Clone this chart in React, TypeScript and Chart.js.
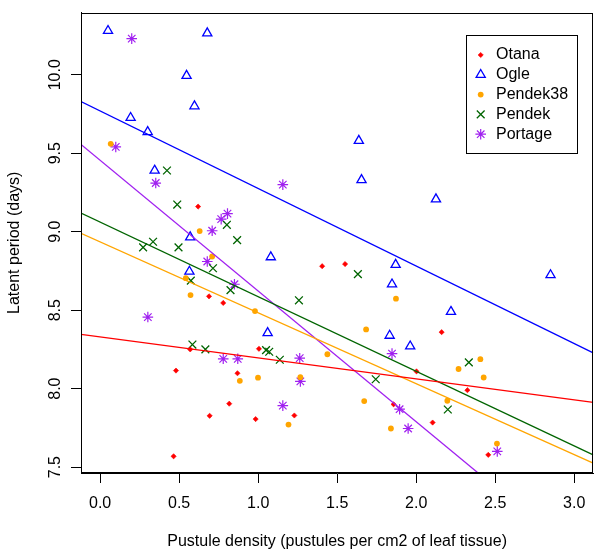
import React, { useEffect, useRef } from "react";
import { Chart, registerables } from "chart.js";
import { drawPoint } from "chart.js/helpers";

Chart.register(...registerables);

const FONT = '"Liberation Sans", Arial, Helvetica, sans-serif';

// ---- data ----
const otanaX = [0.62, 0.689, 0.779, 0.57, 0.48, 0.869, 0.817, 0.693, 0.984, 0.465, 1.005, 2.002, 1.857, 1.229, 1.405, 1.55, 2.161, 2.324, 2.104, 2.456];
const otanaY = [9.16, 8.588, 8.546, 8.25, 8.115, 8.098, 7.904, 7.827, 7.806, 7.569, 8.254, 8.11, 7.9, 7.829, 8.78, 8.794, 8.36, 7.99, 7.784, 7.578];

const ogleX = [0.05, 0.678, 0.547, 0.597, 0.193, 0.301, 0.345, 1.637, 1.654, 0.57, 0.565, 1.08, 1.87, 1.847, 1.06, 1.832, 1.962, 2.125, 2.85, 2.22];
const ogleY = [10.28, 10.265, 9.994, 9.8, 9.726, 9.636, 9.39, 9.58, 9.33, 8.965, 8.746, 8.838, 8.79, 8.665, 8.355, 8.338, 8.27, 9.207, 8.724, 8.49];

const pendek38X = [0.067, 0.63, 0.709, 0.542, 0.572, 0.98, 0.884, 0.999, 1.438, 1.267, 1.671, 1.192, 1.84, 1.872, 1.683, 2.406, 2.268, 2.427, 2.197, 2.511];
const pendek38Y = [9.56, 9.004, 8.842, 8.704, 8.596, 8.494, 8.05, 8.07, 8.219, 8.073, 7.921, 7.771, 7.746, 8.573, 8.377, 8.188, 8.125, 8.071, 7.923, 7.65];

const pendekX = [0.423, 0.488, 0.802, 0.867, 0.335, 0.272, 0.496, 0.714, 0.574, 0.825, 0.584, 0.666, 1.05, 1.07, 1.137, 1.744, 1.631, 1.258, 2.333, 2.2];
const pendekY = [9.39, 9.173, 9.044, 8.946, 8.936, 8.9, 8.9, 8.767, 8.688, 8.628, 8.281, 8.25, 8.245, 8.235, 8.184, 8.06, 8.73, 8.563, 8.167, 7.867];

const portageX = [0.2, 0.099, 0.352, 1.156, 0.806, 0.766, 0.709, 0.678, 0.85, 0.302, 0.779, 0.871, 1.263, 1.847, 1.267, 1.156, 1.895, 1.949, 2.513];
const portageY = [10.23, 9.54, 9.31, 9.3, 9.115, 9.08, 9.006, 8.81, 8.665, 8.456, 8.19, 8.19, 8.194, 8.223, 8.046, 7.892, 7.869, 7.746, 7.6];

// fitted lines: y at the left and right edge of the plot region
const fitX = [-0.121, 3.12];
const otanaFit = [8.346, 7.9125];
const ogleFit = [9.829, 8.228];
const pendek38Fit = [8.99, 7.525];
const pendekFit = [9.119, 7.578];
const portageFit = [9.556, 6.856];

const legendLabels = ["Otana", "Ogle", "Pendek38", "Pendek", "Portage"];
const xTicks = [0, 0.5, 1.0, 1.5, 2.0, 2.5, 3.0];
const yTicks = [7.5, 8.0, 8.5, 9.0, 9.5, 10.0];
const xTitle = "Pustule density (pustules per cm2 of leaf tissue)";
const yTitle = "Latent period (days)";

const X_MIN = -0.121;
const X_MAX = 3.12;
const Y_MIN = 7.4625;
const Y_MAX = 10.396;

const RED = "#FF0000";
const BLUE = "#0000FF";
const ORANGE = "#FFA500";
const GREEN = "#006400";
const PURPLE = "#A020F0";

const styles = [
  { color: RED, pointStyle: "rectRot", radius: 2.6, fill: RED, bw: 0.6 },
  { color: BLUE, pointStyle: "triangle", radius: 5.3, fill: "rgba(0,0,0,0)", bw: 1.3 },
  { color: ORANGE, pointStyle: "circle", radius: 2.9, fill: ORANGE, bw: 0 },
  { color: GREEN, pointStyle: "crossRot", radius: 5.5, fill: GREEN, bw: 1.3 },
  { color: PURPLE, pointStyle: "star", radius: 5.3, fill: PURPLE, bw: 1.2 },
];

const seriesX = [otanaX, ogleX, pendek38X, pendekX, portageX];
const seriesY = [otanaY, ogleY, pendek38Y, pendekY, portageY];
const fits = [otanaFit, ogleFit, pendek38Fit, pendekFit, portageFit];

const frameAndLegend = {
  id: "frameAndLegend",
  afterDraw(chart: any) {
    const ctx = chart.ctx;
    const a = chart.chartArea;
    ctx.save();
    // plot box
    ctx.strokeStyle = "#000";
    ctx.lineWidth = 1;
    ctx.strokeRect(Math.round(a.left) + 0.5, Math.round(a.top) + 0.5, Math.round(a.right - a.left) - 1, Math.round(a.bottom - a.top) - 1);

    // y tick labels (rotated like R)
    const ys = chart.scales.y;
    ctx.fillStyle = "#000";
    ctx.font = `16px ${FONT}`;
    ctx.textAlign = "center";
    ctx.textBaseline = "alphabetic";
    yTicks.forEach((v) => {
      const py = ys.getPixelForValue(v);
      ctx.save();
      ctx.translate(60, py);
      ctx.rotate(-Math.PI / 2);
      ctx.fillText(v.toFixed(1), 0, 0);
      ctx.restore();
    });

    // legend
    ctx.strokeStyle = "#000";
    ctx.lineWidth = 1;
    ctx.strokeRect(466.5, 35.5, 111, 118);
    styles.forEach((s, i) => {
      const y = 55 + i * 19.8;
      ctx.strokeStyle = s.color;
      ctx.fillStyle = s.fill;
      ctx.lineWidth = s.bw;
      drawPoint(ctx, { pointStyle: s.pointStyle, radius: s.radius, rotation: 0, borderWidth: s.bw }, 480.7, y);
      ctx.fillStyle = "#000";
      ctx.font = `16px ${FONT}`;
      ctx.textBaseline = "middle";
      ctx.textAlign = "left";
      ctx.fillText(legendLabels[i], 496, y);
    });
    ctx.restore();
  },
};

export default function App() {
  const ref = useRef<HTMLCanvasElement | null>(null);

  useEffect(() => {
    if (!ref.current) return;
    const pointSets = styles.map((s, i) => ({
      label: legendLabels[i],
      data: seriesX[i].map((x, j) => ({ x, y: seriesY[i][j] })),
      pointStyle: s.pointStyle,
      radius: s.radius,
      pointRadius: s.radius,
      backgroundColor: s.fill,
      borderColor: s.color,
      borderWidth: s.bw,
      showLine: false,
      order: 2,
    }));
    const lineSets = styles.map((s, i) => ({
      label: legendLabels[i] + " fit",
      data: fitX.map((x, j) => ({ x, y: fits[i][j] })),
      showLine: true,
      pointRadius: 0,
      borderColor: s.color,
      borderWidth: 1.3,
      backgroundColor: s.color,
      fill: false,
      order: 1,
    }));

    const chart = new Chart(ref.current, {
      type: "scatter",
      data: { datasets: [...pointSets, ...lineSets] as any },
      plugins: [frameAndLegend],
      options: {
        responsive: false,
        animation: false,
        events: [],
        layout: { padding: { top: 3, right: 3, left: 0, bottom: 0 } },
        plugins: { legend: { display: false }, tooltip: { enabled: false } },
        scales: {
          x: {
            type: "linear",
            min: X_MIN,
            max: X_MAX,
            afterBuildTicks: (s: any) => {
              s.ticks = xTicks.map((v) => ({ value: v }));
            },
            afterFit: (s: any) => {
              s.height = 81;
            },
            ticks: {
              callback: (v: any) => Number(v).toFixed(1),
              color: "#000",
              font: { family: FONT, size: 16 },
              padding: 11,
              maxRotation: 0,
              minRotation: 0,
              autoSkip: false,
            },
            grid: { drawOnChartArea: false, drawTicks: true, tickLength: 10, color: "#000", lineWidth: 1 },
            border: { display: true, color: "#000", width: 1 },
            title: { display: true, text: xTitle, color: "#000", font: { family: FONT, size: 16 }, padding: { top: 0, bottom: 3 } },
          },
          y: {
            type: "linear",
            min: Y_MIN,
            max: Y_MAX,
            afterBuildTicks: (s: any) => {
              s.ticks = yTicks.map((v) => ({ value: v }));
            },
            afterFit: (s: any) => {
              s.width = 81;
            },
            ticks: {
              callback: (v: any) => Number(v).toFixed(1),
              color: "rgba(0,0,0,0)",
              font: { family: FONT, size: 16 },
              autoSkip: false,
            },
            grid: { drawOnChartArea: false, drawTicks: true, tickLength: 10, color: "#000", lineWidth: 1 },
            border: { display: true, color: "#000", width: 1 },
            title: { display: true, text: yTitle, color: "#000", font: { family: FONT, size: 16 }, padding: { top: 5, bottom: 0 } },
          },
        },
      } as any,
    });
    return () => chart.destroy();
  }, []);

  return (
    <div style={{ position: "fixed", left: 0, top: 0, width: 600, height: 554, background: "#fff" }}>
      <canvas ref={ref} width={600} height={554} style={{ width: 600, height: 554, display: "block" }} />
    </div>
  );
}
